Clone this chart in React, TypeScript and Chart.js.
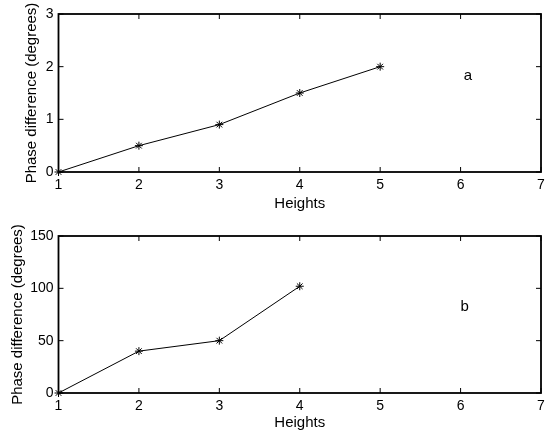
import { useEffect, useRef } from "react";
import { Chart, registerables } from "chart.js";

Chart.register(...registerables);

// Phase difference measured at each height, two cases
const heightTicks = [1, 2, 3, 4, 5, 6, 7];
const heightsA = [1, 2, 3, 4, 5];
const phaseA = [0, 0.5, 0.9, 1.5, 2.0];
const heightsB = [1, 2, 3, 4];
const phaseB = [0, 40, 50, 102];
const yTicksA = [0, 1, 2, 3];
const yTicksB = [0, 50, 100, 150];
const panelNames = ["a", "b"];
const panelNameX = [6.09, 6.05];
const panelNameY = [1.82, 82];

const FONT = "'Liberation Sans', Arial, Helvetica, sans-serif";

// Closed box with inward tick marks on every side, plus the panel letter
const boxPlugin = {
  id: "boxPlugin",
  afterDatasetsDraw(chart: any) {
    const { ctx, chartArea, scales } = chart;
    const { left, top, right, bottom } = chartArea;
    const x = scales.x;
    const y = scales.y;
    const len = 5;
    ctx.save();
    ctx.strokeStyle = "#000";
    ctx.lineWidth = 1;
    ctx.beginPath();
    x.ticks.forEach((t: any) => {
      const px = x.getPixelForValue(t.value);
      ctx.moveTo(px, bottom);
      ctx.lineTo(px, bottom - len);
      ctx.moveTo(px, top);
      ctx.lineTo(px, top + len);
    });
    y.ticks.forEach((t: any) => {
      const py = y.getPixelForValue(t.value);
      ctx.moveTo(left, py);
      ctx.lineTo(left + len, py);
      ctx.moveTo(right, py);
      ctx.lineTo(right - len, py);
    });
    ctx.stroke();
    ctx.lineWidth = 1.8;
    ctx.strokeRect(left, top, right - left, bottom - top);

    const opts = chart.options.plugins.boxPlugin || {};
    if (opts.text) {
      ctx.fillStyle = "#000";
      ctx.font = `15px ${FONT}`;
      ctx.textAlign = "center";
      ctx.textBaseline = "middle";
      ctx.fillText(opts.text, x.getPixelForValue(opts.x), y.getPixelForValue(opts.y));
    }
    ctx.restore();
  },
};

type PanelProps = {
  xs: number[];
  ys: number[];
  yTicks: number[];
  name: string;
  nameX: number;
  nameY: number;
  height: number;
  padTop: number;
  xAxisHeight: number;
  xTitlePad: number;
  yTitlePad: number;
};

function Panel(p: PanelProps) {
  const ref = useRef<HTMLCanvasElement>(null);
  useEffect(() => {
    if (!ref.current) return;
    const yStep = p.yTicks[1] - p.yTicks[0];
    const chart = new Chart(ref.current, {
      type: "line",
      data: {
        datasets: [
          {
            data: p.xs.map((v, i) => ({ x: v, y: p.ys[i] })),
            borderColor: "#000",
            borderWidth: 1,
            pointStyle: "star",
            pointRadius: 4,
            pointBorderColor: "#000",
            pointBorderWidth: 1,
            pointBackgroundColor: "#000",
            fill: false,
            tension: 0,
            clip: false,
          } as any,
        ],
      },
      options: {
        animation: false,
        responsive: false,
        maintainAspectRatio: false,
        layout: { padding: { left: 0, top: p.padTop, right: 3, bottom: 0 } },
        plugins: {
          legend: { display: false },
          tooltip: { enabled: false },
          boxPlugin: { text: p.name, x: p.nameX, y: p.nameY },
        } as any,
        scales: {
          x: {
            type: "linear",
            min: heightTicks[0],
            max: heightTicks[heightTicks.length - 1],
            ticks: {
              stepSize: 1,
              color: "#000",
              font: { family: FONT, size: 14 },
              padding: 5,
              maxRotation: 0,
            },
            grid: { display: false, drawTicks: false },
            border: { display: false },
            title: {
              display: true,
              text: "Heights",
              color: "#000",
              font: { family: FONT, size: 15 },
              padding: { top: 0, bottom: p.xTitlePad },
            },
            afterFit: (s: any) => {
              s.height = p.xAxisHeight;
              s.paddingLeft = 0;
              s.paddingRight = 0;
            },
          },
          y: {
            type: "linear",
            min: p.yTicks[0],
            max: p.yTicks[p.yTicks.length - 1],
            ticks: {
              stepSize: yStep,
              color: "#000",
              font: { family: FONT, size: 14 },
              padding: 5,
            },
            grid: { display: false, drawTicks: false },
            border: { display: false },
            title: {
              display: true,
              text: "Phase difference (degrees)",
              color: "#000",
              font: { family: FONT, size: 15 },
              padding: { top: p.yTitlePad, bottom: 0 },
            },
            afterFit: (s: any) => {
              s.width = 58.5;
              s.paddingTop = 0;
              s.paddingBottom = 0;
            },
          },
        },
      } as any,
      plugins: [boxPlugin],
    });
    return () => chart.destroy();
  }, []);
  return <canvas ref={ref} width={546} height={p.height} style={{ display: "block" }} />;
}

export default function App() {
  return (
    <div style={{ position: "absolute", left: 0, top: 0, width: 546, height: 437, background: "#fff" }}>
      <div style={{ position: "absolute", left: 0, top: 0 }}>
        <Panel
          xs={heightsA}
          ys={phaseA}
          yTicks={yTicksA}
          name={panelNames[0]}
          nameX={panelNameX[0]}
          nameY={panelNameY[0]}
          height={215}
          padTop={14}
          xAxisHeight={43}
          xTitlePad={2.5}
          yTitlePad={23}
        />
      </div>
      <div style={{ position: "absolute", left: 0, top: 215 }}>
        <Panel
          xs={heightsB}
          ys={phaseB}
          yTicks={yTicksB}
          name={panelNames[1]}
          nameX={panelNameX[1]}
          nameY={panelNameY[1]}
          height={222}
          padTop={21}
          xAxisHeight={44}
          xTitlePad={5.5}
          yTitlePad={9}
        />
      </div>
    </div>
  );
}
